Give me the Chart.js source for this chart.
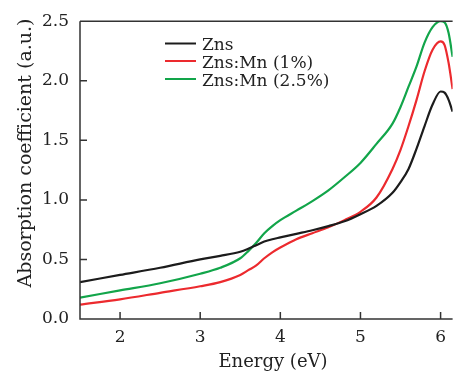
<!DOCTYPE html>
<html>
<head>
<meta charset="utf-8">
<script src="https://cdn.jsdelivr.net/npm/chart.js@4.4.1/dist/chart.umd.min.js"></script>
<style>
  html, body { margin: 0; padding: 0; background: #fff; }
  #wrap { width: 454px; height: 371px; position: relative; }
</style>
</head>
<body>
<div id="wrap"><canvas id="absorption-chart" width="454" height="371"></canvas></div>
<script>
// energy points (eV) shared by the three curves
var energy = [1.5, 2, 2.5, 3, 3.25, 3.5, 3.6, 3.7, 3.8, 3.9, 4.0, 4.2, 4.4, 4.6, 4.8, 5.0, 5.2, 5.4, 5.5, 5.6, 5.7, 5.8, 5.9, 6.0, 6.05, 6.1, 6.15];

var zns = [0.31, 0.37, 0.43, 0.50, 0.53, 0.565, 0.59, 0.62, 0.65, 0.67, 0.685, 0.715, 0.745, 0.78, 0.82, 0.88, 0.95, 1.06, 1.15, 1.26, 1.43, 1.62, 1.80, 1.91, 1.90, 1.84, 1.74];
var znsMn1 = [0.12, 0.165, 0.22, 0.275, 0.31, 0.37, 0.41, 0.45, 0.51, 0.56, 0.60, 0.67, 0.72, 0.77, 0.83, 0.90, 1.02, 1.26, 1.42, 1.62, 1.84, 2.08, 2.26, 2.33, 2.30, 2.15, 1.93];
var znsMn25 = [0.18, 0.24, 0.30, 0.38, 0.43, 0.51, 0.57, 0.64, 0.72, 0.78, 0.83, 0.91, 0.99, 1.08, 1.19, 1.31, 1.47, 1.64, 1.78, 1.95, 2.12, 2.32, 2.45, 2.50, 2.49, 2.40, 2.20];

var seriesLabels = ['Zns', 'Zns:Mn (1%)', 'Zns:Mn (2.5%)'];
var seriesColors = ['#1c1c1c', '#ec2a2e', '#12a54a'];

var xTicks = [2, 3, 4, 5, 6];
var yTicks = [0, 0.5, 1.0, 1.5, 2.0, 2.5];

var serif = "'DejaVu Serif', 'Liberation Serif', serif";

function toPoints(vals) {
  return vals.map(function (v, i) { return { x: energy[i], y: v }; });
}

// frame, inward ticks, axis titles and legend box
var decorPlugin = {
  id: 'decor',
  afterDraw: function (chart) {
    var ctx = chart.ctx;
    var a = chart.chartArea;
    var x = chart.scales.x, y = chart.scales.y;
    ctx.save();
    ctx.strokeStyle = '#333';
    ctx.lineWidth = 1.5;
    ctx.beginPath();
    ctx.moveTo(a.left, a.top); ctx.lineTo(a.right, a.top);
    ctx.moveTo(a.left, a.top); ctx.lineTo(a.left, a.bottom); ctx.lineTo(a.right, a.bottom);
    xTicks.forEach(function (t) {
      var px = x.getPixelForValue(t);
      ctx.moveTo(px, a.bottom); ctx.lineTo(px, a.bottom - 7);
    });
    yTicks.forEach(function (t) {
      var py = y.getPixelForValue(t);
      ctx.moveTo(a.left, py); ctx.lineTo(a.left + 7, py);
    });
    ctx.stroke();

    ctx.fillStyle = '#222';
    ctx.font = '18px ' + serif;
    ctx.textAlign = 'center';
    ctx.textBaseline = 'alphabetic';
    ctx.fillText('Energy (eV)', 273, 367);

    ctx.save();
    ctx.translate(31, 153);
    ctx.rotate(-Math.PI / 2);
    ctx.font = '19px ' + serif;
    ctx.fillText('Absorption coefficient (a.u.)', 0, 0);
    ctx.restore();

    // legend
    ctx.font = '17px ' + serif;
    ctx.textAlign = 'left';
    ctx.lineWidth = 2;
    var rowY = [43.5, 61, 79];
    seriesLabels.forEach(function (lab, i) {
      ctx.strokeStyle = seriesColors[i];
      ctx.beginPath();
      ctx.moveTo(165, rowY[i]); ctx.lineTo(196, rowY[i]);
      ctx.stroke();
      ctx.fillText(lab, 202, rowY[i] + 6.5);
    });
    ctx.restore();
  }
};

var ctx = document.getElementById('absorption-chart');
var absorptionChart = new Chart(ctx, {
  type: 'line',
  data: {
    datasets: [
      { label: seriesLabels[0], data: toPoints(zns), borderColor: seriesColors[0] },
      { label: seriesLabels[1], data: toPoints(znsMn1), borderColor: seriesColors[1] },
      { label: seriesLabels[2], data: toPoints(znsMn25), borderColor: seriesColors[2] }
    ]
  },
  options: {
    responsive: false,
    animation: false,
    devicePixelRatio: 1,
    layout: { padding: { top: 17, right: 0, bottom: 0, left: 0 } },
    elements: {
      point: { radius: 0 },
      line: { borderWidth: 2.2, tension: 0.4, cubicInterpolationMode: 'monotone', fill: false }
    },
    plugins: {
      legend: { display: false },
      tooltip: { enabled: false }
    },
    scales: {
      x: {
        type: 'linear',
        min: 1.5,
        max: 6.15,
        afterFit: function (scale) { scale.height = 52; },
        grid: { display: false, drawTicks: false },
        border: { display: false },
        ticks: {
          stepSize: 1,
          includeBounds: false,
          padding: 8,
          color: '#222',
          font: { family: serif, size: 17 },
          maxRotation: 0
        }
      },
      y: {
        min: 0,
        max: 2.5,
        afterFit: function (scale) { scale.width = 80; },
        grid: { display: false, drawTicks: false },
        border: { display: false },
        ticks: {
          stepSize: 0.5,
          padding: 11,
          color: '#222',
          font: { family: serif, size: 17 },
          callback: function (v) { return v.toFixed(1); }
        }
      }
    }
  },
  plugins: [decorPlugin]
});
</script>
</body>
</html>
